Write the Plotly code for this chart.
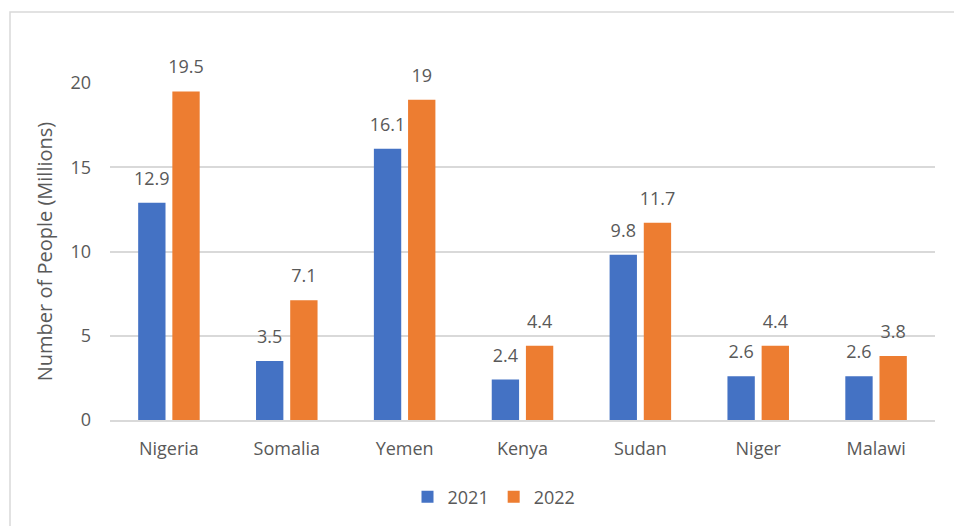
import plotly.graph_objects as go

countries = ["Nigeria", "Somalia", "Yemen", "Kenya", "Sudan", "Niger", "Malawi"]
values_2021 = [12.9, 3.5, 16.1, 2.4, 9.8, 2.6, 2.6]
values_2022 = [19.5, 7.1, 19, 4.4, 11.7, 4.4, 3.8]
series_names = ["2021", "2022"]
y_ticks = [0, 5, 10, 15, 20]

FONT = "Open Sans, Liberation Sans, sans-serif"
GRAY = "#595959"
series = [(series_names[0], values_2021, "#4472C4"),
          (series_names[1], values_2022, "#ED7D31")]

fig = go.Figure()
for name, vals, col in series:
    fig.add_trace(go.Bar(
        name=name, x=countries, y=vals, offsetgroup=name,
        marker=dict(color=col, line=dict(width=0)),
    ))
for name, vals, col in series:
    fig.add_trace(go.Scatter(
        name=name, x=countries, y=vals, offsetgroup=name, mode="markers+text",
        text=[f"{v:g}" for v in vals], textposition="top center",
        marker=dict(size=20, color="rgba(0,0,0,0)", line=dict(width=0)),
        textfont=dict(size=18, color=GRAY, family=FONT),
        showlegend=False, cliponaxis=False, hoverinfo="skip",
    ))

L, R, T, B = 110, 19, 83, 106
W, H = 954, 526
pw, ph = W - L - R, H - T - B

def px_x(x):
    return (x - L) / pw

def px_y(y):
    return (H - B - y) / ph

fig.add_shape(type="rect", xref="paper", yref="paper",
              x0=px_x(10), x1=px_x(960), y0=px_y(12), y1=px_y(540),
              line=dict(color="#d9d9d9", width=1.5), fillcolor="rgba(0,0,0,0)", layer="below")

fig.update_layout(
    width=W, height=H,
    margin=dict(l=L, r=R, t=T, b=B, autoexpand=False),
    paper_bgcolor="white", plot_bgcolor="white",
    barmode="group", bargap=0.42, bargroupgap=0.2,
    scattermode="group", scattergap=0.42,
    font=dict(family=FONT, size=18, color=GRAY),
    showlegend=True,
    legend=dict(orientation="h", x=px_x(494), xanchor="center", y=px_y(497), yanchor="middle",
                font=dict(size=18, color=GRAY), itemwidth=30, traceorder="normal"),
    xaxis=dict(showgrid=False, showline=True, linecolor="#d9d9d9", linewidth=1.5,
               ticks="", tickfont=dict(size=18, color=GRAY), ticklabelstandoff=12),
    yaxis=dict(range=[0, 20], tickvals=y_ticks, showgrid=True, gridcolor="#d9d9d9", gridwidth=1.5,
               zeroline=False, showline=False, tickfont=dict(size=18, color=GRAY),
               ticklabelstandoff=18,
               title=dict(text="Number of People (Millions)", font=dict(size=20, color=GRAY), standoff=12)),
)

fig.write_html("out.html")
